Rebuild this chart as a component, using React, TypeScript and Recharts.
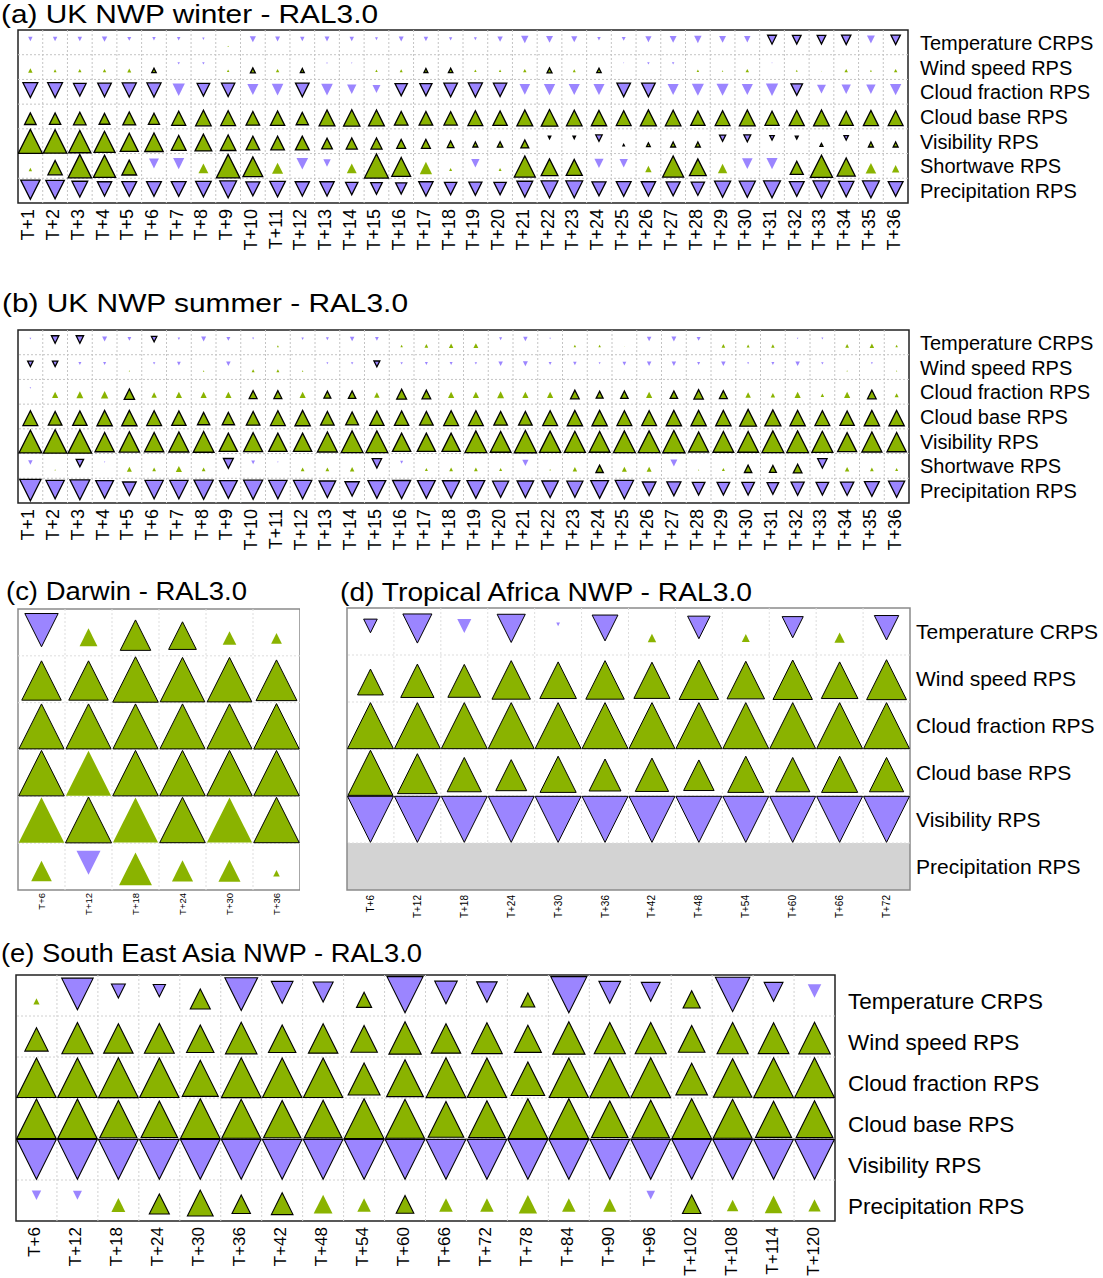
import React from 'react';
import { ScatterChart, Scatter, XAxis, YAxis, ReferenceLine, ReferenceArea } from 'recharts';

const FONT = '"Liberation Sans", Arial, Helvetica, sans-serif';
const GREEN = '#8ab300';
const PURPLE = '#9b85ff';

// ---------- labels ----------
const ukRows = ['Temperature CRPS', 'Wind speed RPS', 'Cloud fraction RPS', 'Cloud base RPS', 'Visibility RPS', 'Shortwave RPS', 'Precipitation RPS'];
const tropRows = ['Temperature CRPS', 'Wind speed RPS', 'Cloud fraction RPS', 'Cloud base RPS', 'Visibility RPS', 'Precipitation RPS'];
const ukLeadTimes = ['T+1', 'T+2', 'T+3', 'T+4', 'T+5', 'T+6', 'T+7', 'T+8', 'T+9', 'T+10', 'T+11', 'T+12', 'T+13', 'T+14', 'T+15', 'T+16', 'T+17', 'T+18', 'T+19', 'T+20', 'T+21', 'T+22', 'T+23', 'T+24', 'T+25', 'T+26', 'T+27', 'T+28', 'T+29', 'T+30', 'T+31', 'T+32', 'T+33', 'T+34', 'T+35', 'T+36'];
const darwinLeadTimes = ['T+6', 'T+12', 'T+18', 'T+24', 'T+30', 'T+36'];
const africaLeadTimes = ['T+6', 'T+12', 'T+18', 'T+24', 'T+30', 'T+36', 'T+42', 'T+48', 'T+54', 'T+60', 'T+66', 'T+72'];
const seaLeadTimes = ['T+6', 'T+12', 'T+18', 'T+24', 'T+30', 'T+36', 'T+42', 'T+48', 'T+54', 'T+60', 'T+66', 'T+72', 'T+78', 'T+84', 'T+90', 'T+96', 'T+102', 'T+108', 'T+114', 'T+120'];
const titles = ['(a) UK NWP winter - RAL3.0', '(b) UK NWP summer - RAL3.0', '(c) Darwin - RAL3.0', '(d) Tropical Africa NWP - RAL3.0', '(e) South East Asia NWP - RAL3.0'];

// ---------- (a) UK winter: signed relative size (+ better / - worse), sig = outlined ----------
const aTemp = [-0.18, -0.18, -0.18, -0.22, -0.16, -0.14, -0.14, -0.1, 0.05, -0.25, -0.2, -0.18, -0.2, -0.18, -0.12, -0.2, -0.18, -0.13, -0.12, -0.22, -0.3, -0.28, -0.25, -0.14, -0.16, -0.25, -0.28, -0.3, -0.28, -0.26, -0.36, -0.35, -0.35, -0.38, -0.32, -0.38];
const aTempSig = [0, 0, 0, 0, 0, 0, 0, 0, 0, 0, 0, 0, 0, 0, 0, 0, 0, 0, 0, 0, 0, 0, 0, 0, 0, 0, 0, 0, 0, 0, 1, 1, 1, 1, 0, 1];
const aWind = [0.18, 0.12, 0.14, 0.14, 0.16, 0.18, -0.1, -0.1, 0.1, 0.2, 0.14, 0.16, -0.06, -0.05, 0.1, 0.12, 0.16, 0.18, 0.1, 0.1, 0.14, 0.2, 0.12, 0.18, -0.04, -0.1, -0.1, 0.1, 0.06, 0.14, -0.04, 0.08, 0.03, 0.14, 0.08, 0.14];
const aWindSig = [0, 0, 0, 0, 0, 1, 0, 0, 0, 1, 0, 1, 0, 0, 0, 0, 1, 1, 0, 0, 0, 1, 0, 1, 0, 0, 0, 0, 0, 0, 0, 0, 0, 0, 0, 0];
const aCfrac = [-0.6, -0.6, -0.51, -0.55, -0.57, -0.57, -0.5, -0.51, -0.54, -0.45, -0.47, -0.55, -0.47, -0.38, -0.32, -0.5, -0.49, -0.55, -0.57, -0.54, -0.43, -0.46, -0.45, -0.45, -0.55, -0.55, -0.45, -0.49, -0.49, -0.45, -0.5, -0.47, -0.36, -0.38, -0.38, -0.46];
const aCfracSig = [1, 1, 1, 1, 1, 1, 0, 1, 1, 0, 0, 1, 0, 0, 0, 1, 1, 1, 1, 1, 0, 0, 0, 0, 1, 1, 0, 0, 0, 0, 0, 1, 0, 0, 0, 0];
const aCbase = [0.47, 0.46, 0.51, 0.44, 0.52, 0.45, 0.57, 0.63, 0.6, 0.55, 0.58, 0.5, 0.64, 0.66, 0.64, 0.55, 0.55, 0.54, 0.6, 0.58, 0.64, 0.67, 0.63, 0.62, 0.6, 0.65, 0.63, 0.58, 0.6, 0.64, 0.57, 0.61, 0.64, 0.57, 0.61, 0.6];
const aVis = [0.97, 0.95, 0.9, 0.85, 0.73, 0.75, 0.6, 0.68, 0.63, 0.55, 0.55, 0.56, 0.43, 0.45, 0.45, 0.36, 0.36, 0.27, 0.2, 0.22, 0.32, -0.1, -0.1, -0.26, 0.06, 0.15, 0.2, 0.2, -0.25, -0.28, -0.18, -0.12, 0.12, -0.18, 0.2, 0.2];
const aSw = [0.14, 0.58, 0.95, 0.9, 0.6, -0.4, -0.45, 0.4, 0.95, 0.8, 0.45, -0.47, -0.3, 0.4, 0.97, 0.76, 0.5, 0.12, -0.34, 0.12, 0.85, 0.68, 0.65, -0.37, -0.34, 0.26, 0.85, 0.68, 0.38, -0.43, -0.45, 0.53, 0.9, 0.73, 0.43, 0.3];
const aSwSig = [0, 1, 1, 1, 1, 0, 0, 0, 1, 1, 0, 0, 0, 0, 1, 1, 0, 0, 0, 0, 1, 1, 1, 0, 0, 0, 1, 1, 0, 0, 0, 1, 1, 1, 0, 0];
const aPrecip = [-0.78, -0.75, -0.64, -0.58, -0.6, -0.6, -0.6, -0.63, -0.68, -0.57, -0.63, -0.58, -0.58, -0.5, -0.47, -0.45, -0.58, -0.5, -0.53, -0.5, -0.64, -0.68, -0.68, -0.57, -0.6, -0.58, -0.57, -0.54, -0.65, -0.65, -0.68, -0.6, -0.68, -0.62, -0.68, -0.6];

// ---------- (b) UK summer ----------
const bTemp = [-0.07, -0.3, -0.3, -0.2, -0.15, -0.22, -0.1, -0.2, -0.16, -0.08, 0.08, -0.1, -0.12, -0.18, -0.15, 0.1, 0.15, 0.18, 0.2, -0.12, -0.18, -0.06, 0.1, 0.1, 0.02, -0.18, -0.2, -0.16, 0.15, 0.12, 0.14, -0.06, -0.08, 0.15, 0.18, 0.1];
const bTempSig = [0, 1, 1, 0, 0, 1, 0, 0, 0, 0, 0, 0, 0, 0, 0, 0, 0, 0, 0, 0, 0, 0, 0, 0, 0, 0, 0, 0, 0, 0, 0, 0, 0, 0, 0, 0];
const bWind = [-0.22, -0.22, -0.12, -0.12, 0.05, -0.1, -0.15, 0.06, -0.18, 0.12, 0.12, 0.06, -0.08, -0.1, -0.24, -0.1, -0.12, -0.12, -0.1, -0.18, -0.2, -0.12, -0.14, -0.08, -0.15, -0.18, -0.18, -0.12, -0.18, -0.08, -0.12, -0.18, -0.1, 0.05, -0.08, 0.05];
const bWindSig = [1, 1, 0, 0, 0, 0, 0, 0, 0, 0, 0, 0, 0, 0, 1, 0, 0, 0, 0, 0, 0, 0, 0, 0, 0, 0, 0, 0, 0, 0, 0, 0, 0, 0, 0, 0];
const bCfrac = [-0.06, 0.25, 0.28, 0.3, 0.42, 0.22, 0.25, 0.25, 0.25, 0.32, 0.32, 0.25, 0.28, 0.3, 0.22, 0.4, 0.35, 0.25, 0.25, 0.28, 0.25, 0.25, 0.35, 0.28, 0.3, 0.25, 0.3, 0.38, 0.32, 0.22, 0.18, 0.25, 0.14, 0.25, 0.35, 0.16];
const bCfracSig = [0, 0, 0, 0, 1, 0, 0, 0, 0, 1, 1, 0, 1, 1, 0, 1, 1, 0, 0, 0, 0, 0, 1, 1, 1, 0, 1, 1, 1, 0, 0, 0, 0, 0, 1, 0];
const bCbase = [0.6, 0.55, 0.58, 0.62, 0.62, 0.6, 0.58, 0.5, 0.5, 0.55, 0.6, 0.62, 0.55, 0.52, 0.58, 0.58, 0.55, 0.6, 0.6, 0.55, 0.55, 0.6, 0.62, 0.62, 0.6, 0.6, 0.62, 0.62, 0.62, 0.68, 0.65, 0.62, 0.6, 0.58, 0.62, 0.62];
const bVis = [0.92, 0.95, 0.95, 0.78, 0.82, 0.78, 0.81, 0.84, 0.74, 0.77, 0.74, 0.74, 0.81, 0.88, 0.88, 0.74, 0.74, 0.74, 0.88, 0.84, 0.9, 0.86, 0.85, 0.84, 0.88, 0.88, 0.9, 0.81, 0.84, 0.84, 0.88, 0.88, 0.85, 0.77, 0.81, 0.78];
const bSw = [-0.18, 0.05, -0.3, -0.05, 0.2, 0.15, 0.25, 0.15, -0.4, -0.15, -0.05, 0.15, 0.15, 0.18, -0.38, -0.12, 0.12, 0.15, 0.15, 0.12, -0.25, 0.06, 0.18, 0.3, 0.2, 0.2, -0.28, 0.05, 0.12, 0.3, 0.28, 0.35, -0.38, 0.18, 0.15, 0.12];
const bSwSig = [0, 0, 1, 0, 0, 0, 0, 0, 1, 0, 0, 0, 0, 0, 1, 0, 0, 0, 0, 0, 0, 0, 0, 1, 0, 0, 0, 0, 0, 1, 1, 1, 1, 0, 0, 0];
const bPrecip = [-0.86, -0.74, -0.8, -0.72, -0.55, -0.74, -0.74, -0.78, -0.72, -0.77, -0.74, -0.74, -0.67, -0.58, -0.72, -0.73, -0.72, -0.7, -0.72, -0.65, -0.67, -0.67, -0.65, -0.72, -0.74, -0.55, -0.57, -0.51, -0.51, -0.51, -0.47, -0.53, -0.51, -0.54, -0.6, -0.65];

// ---------- (c) Darwin ----------
const cTemp = [-0.71, 0.38, 0.65, 0.59, 0.29, 0.23];
const cTempSig = [1, 0, 1, 1, 0, 0];
const cWind = [0.84, 0.84, 0.97, 0.95, 0.95, 0.87];
const cCfrac = [0.96, 0.96, 0.96, 0.96, 0.96, 0.97];
const cCbase = [0.97, 0.96, 0.97, 0.97, 0.97, 0.97];
const cCbaseSig = [1, 0, 1, 1, 1, 1];
const cVis = [0.97, 0.98, 0.96, 0.97, 0.96, 0.97];
const cVisSig = [0, 1, 0, 1, 0, 1];
const cPrecip = [0.44, -0.51, 0.7, 0.45, 0.47, 0.14];
const cPrecipSig = [0, 0, 0, 0, 0, 0];

// ---------- (d) Tropical Africa ----------
const dTemp = [-0.29, -0.62, -0.3, -0.6, -0.08, -0.55, 0.18, -0.48, 0.17, -0.45, 0.22, -0.52];
const dTempSig = [1, 1, 0, 1, 0, 1, 0, 1, 0, 1, 0, 1];
const dWind = [0.55, 0.71, 0.7, 0.82, 0.78, 0.82, 0.77, 0.84, 0.8, 0.84, 0.78, 0.85];
const dCfrac = [0.98, 0.98, 0.98, 0.98, 0.98, 0.98, 0.98, 0.98, 0.98, 0.98, 0.98, 0.98];
const dCbase = [0.96, 0.85, 0.73, 0.66, 0.77, 0.68, 0.71, 0.65, 0.77, 0.73, 0.77, 0.73];
const dVis = [-0.98, -0.98, -0.98, -0.98, -0.98, -0.98, -0.98, -0.98, -0.98, -0.98, -0.98, -0.98];
const dPrecip: number[] = []; // not available (grey)

// ---------- (e) South East Asia ----------
const eTemp = [0.15, -0.77, -0.34, -0.3, 0.49, -0.8, -0.53, -0.49, 0.37, -0.88, -0.55, -0.5, 0.34, -0.88, -0.53, -0.46, 0.42, -0.84, -0.46, -0.33];
const eTempSig = [0, 1, 1, 1, 1, 1, 1, 1, 1, 1, 1, 1, 1, 1, 1, 1, 1, 1, 1, 0];
const eWind = [0.57, 0.76, 0.72, 0.73, 0.67, 0.77, 0.67, 0.72, 0.65, 0.79, 0.72, 0.75, 0.66, 0.79, 0.76, 0.76, 0.65, 0.76, 0.75, 0.77];
const eCfrac = [0.96, 0.96, 0.97, 0.96, 0.88, 0.97, 0.96, 0.96, 0.78, 0.9, 0.97, 0.96, 0.82, 0.96, 0.97, 0.97, 0.77, 0.94, 0.97, 0.97];
const eCbase = [0.96, 0.96, 0.91, 0.89, 0.97, 0.95, 0.91, 0.92, 0.97, 0.95, 0.87, 0.9, 0.97, 0.97, 0.89, 0.92, 0.97, 0.95, 0.88, 0.9];
const eVis = [-0.97, -0.97, -0.97, -0.97, -0.97, -0.97, -0.97, -0.97, -0.97, -0.97, -0.97, -0.97, -0.97, -0.97, -0.97, -0.97, -0.97, -0.97, -0.97, -0.97];
const ePrecip = [-0.23, -0.22, 0.34, 0.49, 0.63, 0.45, 0.53, 0.46, 0.33, 0.43, 0.33, 0.33, 0.45, 0.33, 0.32, -0.21, 0.45, 0.28, 0.43, 0.3];
const ePrecipSig = [0, 0, 0, 1, 1, 1, 1, 0, 0, 1, 0, 0, 0, 0, 0, 0, 1, 0, 0, 0];

type Row = { vals: number[]; sig: number[] | 'all' };

type PanelCfg = {
  left: number; top: number; width: number; height: number;
  mTop: number; mLeft: number; yW: number; xH: number;
  cols: string[]; rowNames: string[]; showRowLabels: boolean;
  rows: Row[];
  border: string; outlineW: number;
  tickFs: number; tickGap: number; tickDx: number;
  labelFs: number; labelGap: number; labelDy: number;
  gridColor: string;
  grayRow?: number;
};

const panels: PanelCfg[] = [
  {
    left: 0, top: 0, width: 1103, height: 260, mTop: 30, mLeft: 18, yW: 195, xH: 57,
    cols: ukLeadTimes, rowNames: ukRows, showRowLabels: true,
    rows: [
      { vals: aTemp, sig: aTempSig }, { vals: aWind, sig: aWindSig }, { vals: aCfrac, sig: aCfracSig },
      { vals: aCbase, sig: 'all' }, { vals: aVis, sig: 'all' }, { vals: aSw, sig: aSwSig }, { vals: aPrecip, sig: 'all' },
    ],
    border: '#222', outlineW: 1.3, tickFs: 18, tickGap: 6, tickDx: -2, labelFs: 20, labelGap: 12, labelDy: 0.5, gridColor: '#c4c4c4',
  },
  {
    left: 0, top: 300, width: 1103, height: 260, mTop: 30, mLeft: 18, yW: 194, xH: 57,
    cols: ukLeadTimes, rowNames: ukRows, showRowLabels: true,
    rows: [
      { vals: bTemp, sig: bTempSig }, { vals: bWind, sig: bWindSig }, { vals: bCfrac, sig: bCfracSig },
      { vals: bCbase, sig: 'all' }, { vals: bVis, sig: 'all' }, { vals: bSw, sig: bSwSig }, { vals: bPrecip, sig: 'all' },
    ],
    border: '#222', outlineW: 1.3, tickFs: 18, tickGap: 6, tickDx: -2, labelFs: 20, labelGap: 11, labelDy: 0.5, gridColor: '#c4c4c4',
  },
  {
    left: 0, top: 580, width: 300, height: 340, mTop: 29, mLeft: 18, yW: 0, xH: 30,
    cols: darwinLeadTimes, rowNames: tropRows, showRowLabels: false,
    rows: [
      { vals: cTemp, sig: cTempSig }, { vals: cWind, sig: 'all' }, { vals: cCfrac, sig: 'all' },
      { vals: cCbase, sig: cCbaseSig }, { vals: cVis, sig: cVisSig }, { vals: cPrecip, sig: cPrecipSig },
    ],
    border: '#8a8a8a', outlineW: 1, tickFs: 9.5, tickGap: 3, tickDx: 0, labelFs: 21, labelGap: 6, labelDy: 0, gridColor: '#dddddd',
  },
  {
    left: 330, top: 580, width: 773, height: 350, mTop: 28, mLeft: 17, yW: 193, xH: 40,
    cols: africaLeadTimes, rowNames: tropRows, showRowLabels: true,
    rows: [
      { vals: dTemp, sig: dTempSig }, { vals: dWind, sig: 'all' }, { vals: dCfrac, sig: 'all' },
      { vals: dCbase, sig: 'all' }, { vals: dVis, sig: 'all' }, { vals: dPrecip, sig: 'all' },
    ],
    border: '#8a8a8a', outlineW: 1, tickFs: 10, tickGap: 5, tickDx: 0, labelFs: 21, labelGap: 6, labelDy: 0, gridColor: '#dddddd',
    grayRow: 5,
  },
  {
    left: 0, top: 960, width: 1103, height: 318, mTop: 15, mLeft: 16, yW: 268, xH: 57,
    cols: seaLeadTimes, rowNames: tropRows, showRowLabels: true,
    rows: [
      { vals: eTemp, sig: eTempSig }, { vals: eWind, sig: 'all' }, { vals: eCfrac, sig: 'all' },
      { vals: eCbase, sig: 'all' }, { vals: eVis, sig: 'all' }, { vals: ePrecip, sig: ePrecipSig },
    ],
    border: '#222', outlineW: 1.1, tickFs: 17, tickGap: 6, tickDx: -1.5, labelFs: 22.5, labelGap: 13, labelDy: 6, gridColor: '#d0d0d0',
  },
];

const titlePos = [
  { x: 1, y: 23, len: 377 }, { x: 2, y: 312, len: 406 }, { x: 6, y: 600, len: 241 }, { x: 340, y: 601, len: 412 }, { x: 1, y: 962, len: 421 },
];

function renderTri(props: any, cw: number, ch: number, sw: number) {
  const { cx, cy } = props;
  const p = props.payload || {};
  const v: number = p.v;
  if (cx == null || cy == null || !v) return <g />;
  const f = Math.abs(v);
  const w = f * cw;
  const h = f * ch;
  let pts: number[][];
  if (v > 0) {
    const gy = cy + ch / 6;
    pts = [[cx, gy - (2 * h) / 3], [cx - w / 2, gy + h / 3], [cx + w / 2, gy + h / 3]];
  } else {
    const gy = cy - ch / 6;
    pts = [[cx - w / 2, gy - h / 3], [cx + w / 2, gy - h / 3], [cx, gy + (2 * h) / 3]];
  }
  return (
    <polygon
      points={pts.map((q) => `${q[0]},${q[1]}`).join(' ')}
      fill={v > 0 ? GREEN : PURPLE}
      stroke={p.s ? '#000' : 'none'}
      strokeWidth={p.s ? sw : 0}
      strokeLinejoin="miter"
    />
  );
}

function Panel({ cfg }: { cfg: PanelCfg }) {
  const nC = cfg.cols.length;
  const nR = cfg.rowNames.length;
  const plotW = cfg.width - cfg.mLeft - cfg.yW;
  const plotH = cfg.height - cfg.mTop - cfg.xH;
  const cw = plotW / nC;
  const ch = plotH / nR;
  const data: { x: number; y: number; v: number; s: number }[] = [];
  cfg.rows.forEach((row, r) => {
    row.vals.forEach((v, c) => {
      if (v == null || v === 0) return;
      const s = row.sig === 'all' ? 1 : row.sig[c];
      data.push({ x: c, y: r, v, s });
    });
  });
  const colIdx = cfg.cols.map((_, i) => i);
  const rowIdx = cfg.rowNames.map((_, i) => i);
  const vLines = colIdx.slice(0, nC - 1).map((i) => i + 0.5);
  const hLines = rowIdx.slice(0, nR - 1).map((i) => i + 0.5);
  const yBottomGrid = cfg.grayRow != null ? cfg.grayRow - 0.5 : nR - 0.5;

  return (
    <div style={{ position: 'absolute', left: cfg.left, top: cfg.top, width: cfg.width, height: cfg.height }}>
      <ScatterChart width={cfg.width} height={cfg.height} margin={{ top: cfg.mTop, left: cfg.mLeft, right: 0, bottom: 0 }}>
        <XAxis
          type="number"
          dataKey="x"
          domain={[-0.5, nC - 0.5]}
          allowDataOverflow
          ticks={colIdx}
          interval={0}
          height={cfg.xH}
          axisLine={false}
          tickLine={false}
          tickSize={0}
          tickMargin={cfg.tickGap}
          tick={(t: any) => (
            <text
              x={t.x}
              y={t.y}
              transform={`rotate(-90 ${t.x} ${t.y})`}
              textAnchor="end"
              dominantBaseline="central"
              dy={cfg.tickDx}
              fontSize={cfg.tickFs}
              fontFamily={FONT}
              fill="#000"
            >
              {cfg.cols[t.payload.value]}
            </text>
          )}
        />
        <YAxis
          type="number"
          dataKey="y"
          domain={[-0.5, nR - 0.5]}
          allowDataOverflow
          reversed
          orientation="right"
          width={cfg.yW}
          hide={!cfg.showRowLabels}
          ticks={rowIdx}
          interval={0}
          axisLine={false}
          tickLine={false}
          tickSize={0}
          tickMargin={cfg.labelGap}
          tick={(t: any) => (
            <text
              x={t.x}
              y={t.y + cfg.labelDy}
              textAnchor="start"
              dominantBaseline="central"
              fontSize={cfg.labelFs}
              fontFamily={FONT}
              fill="#000"
            >
              {cfg.rowNames[t.payload.value]}
            </text>
          )}
        />
        {cfg.grayRow != null && (
          <ReferenceArea
            x1={-0.5}
            x2={nC - 0.5}
            y1={cfg.grayRow - 0.5}
            y2={cfg.grayRow + 0.5}
            fill="#d3d3d3"
            fillOpacity={1}
            stroke="none"
            ifOverflow="visible"
          />
        )}
        {vLines.map((x) => (
          <ReferenceLine
            key={'v' + x}
            segment={[{ x, y: -0.5 }, { x, y: yBottomGrid }]}
            stroke={cfg.gridColor}
            strokeDasharray="2 2"
            strokeWidth={1}
            ifOverflow="visible"
          />
        ))}
        {hLines.map((y) => (
          <ReferenceLine
            key={'h' + y}
            y={y}
            stroke={cfg.gridColor}
            strokeDasharray="2 2"
            strokeWidth={1}
            ifOverflow="visible"
          />
        ))}
        <ReferenceArea
          x1={-0.5}
          x2={nC - 0.5}
          y1={-0.5}
          y2={nR - 0.5}
          fill="none"
          fillOpacity={0}
          stroke={cfg.border}
          strokeWidth={1.5}
          ifOverflow="visible"
        />
        <Scatter
          data={data}
          isAnimationActive={false}
          shape={(p: any) => renderTri(p, cw, ch, cfg.outlineW)}
        />
      </ScatterChart>
    </div>
  );
}

export default function App() {
  return (
    <div style={{ position: 'absolute', left: 0, top: 0, width: 1103, height: 1278, background: '#fff', fontFamily: FONT }}>
      {panels.map((p, i) => (
        <Panel key={i} cfg={p} />
      ))}
      <svg width={1103} height={1278} style={{ position: 'absolute', left: 0, top: 0, pointerEvents: 'none' }}>
        {titles.map((t, i) => (
          <text
            key={i}
            x={titlePos[i].x}
            y={titlePos[i].y}
            fontSize={i === 0 ? 25.5 : 26.5}
            fontFamily={FONT}
            fill="#000"
            textLength={titlePos[i].len}
            lengthAdjust="spacingAndGlyphs"
          >
            {t}
          </text>
        ))}
      </svg>
    </div>
  );
}
